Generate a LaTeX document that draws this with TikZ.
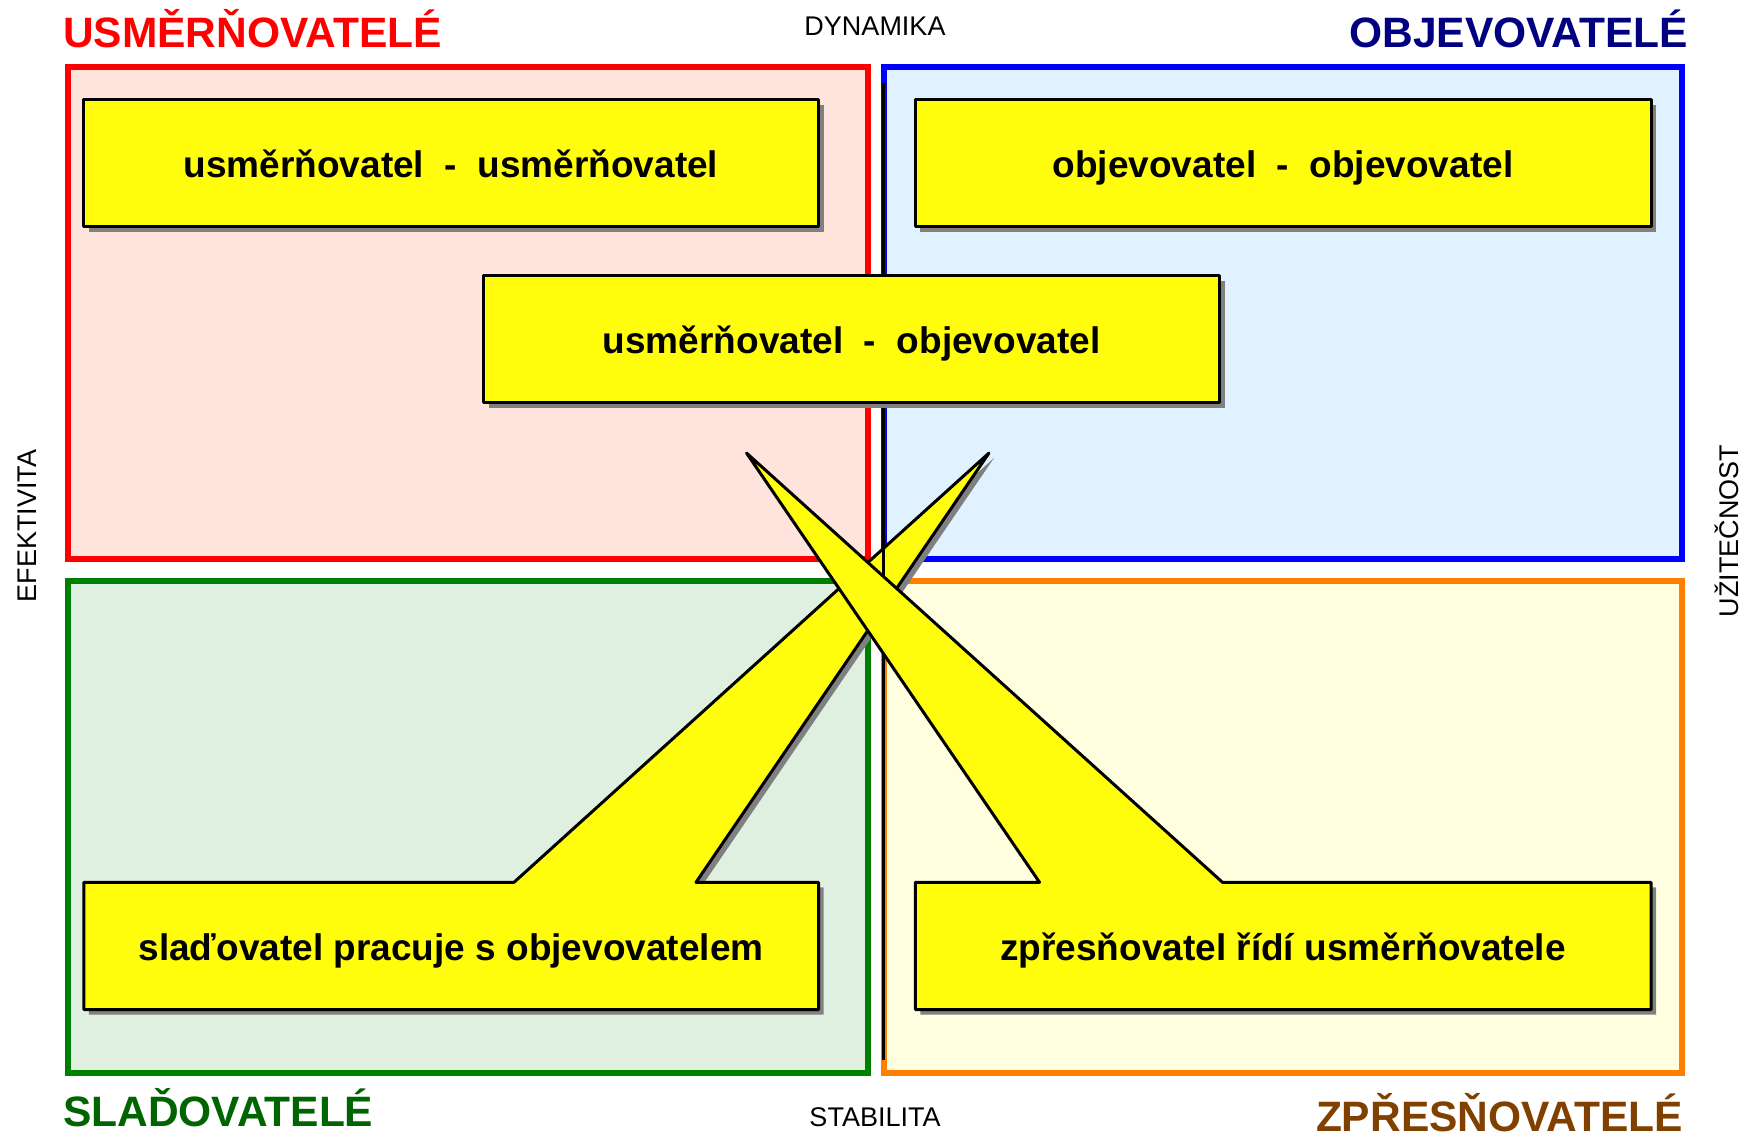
\documentclass[tikz,border=0pt]{standalone}
\usepackage{fontspec}
\setmainfont{Liberation Sans}
% quadrant colours
\definecolor{qred}{RGB}{255,0,0}
\definecolor{qredfill}{RGB}{255,228,222}
\definecolor{qblue}{RGB}{0,0,255}
\definecolor{qbluefill}{RGB}{224,242,255}
\definecolor{qgreen}{RGB}{0,128,0}
\definecolor{qgreenfill}{RGB}{224,240,224}
\definecolor{qorange}{RGB}{255,128,0}
\definecolor{qorangefill}{RGB}{255,255,224}
% title colours
\definecolor{tred}{RGB}{255,0,0}
\definecolor{tnavy}{RGB}{0,0,128}
\definecolor{tgreen}{RGB}{0,100,0}
\definecolor{tbrown}{RGB}{128,64,0}
% cards
\definecolor{cardyellow}{RGB}{255,252,12}
\definecolor{shadowgray}{RGB}{128,128,128}
\begin{document}
\begin{tikzpicture}[x=1pt,y=-1pt,
  quad/.style={line width=6pt},
  card/.style={draw=black,line width=3pt,fill=cardyellow,line join=round},
  cardshadow/.style={fill=shadowgray,shift={(5,5)}},
  cardtext/.style={font=\fontsize{37}{44}\selectfont\bfseries,inner sep=0pt,anchor=base},
  title/.style={font=\fontsize{42.5}{50}\selectfont\bfseries,inner sep=0pt},
  axislabel/.style={font=\fontsize{27}{32}\selectfont,inner sep=0pt}]

% canvas
\fill[white] (0,0) rectangle (1746,1137);
\useasboundingbox (0,0) rectangle (1746,1137);

% four quadrants
\draw[quad,draw=qred,fill=qredfill] (68,67) rectangle (867.7,559);
\draw[quad,draw=qblue,fill=qbluefill] (884,67) rectangle (1682,559);
\draw[quad,draw=qgreen,fill=qgreenfill] (68,581) rectangle (867.7,1073);
\draw[quad,draw=qorange,fill=qorangefill] (884,581) rectangle (1682,1073);

% upper cards
\fill[cardshadow] (83.8,99.8) rectangle (818.5,226.5);
\draw[card] (83.8,99.8) rectangle (818.5,226.5);
\fill[cardshadow] (915.3,99.8) rectangle (1651,226.5);
\draw[card] (915.3,99.8) rectangle (1651,226.5);

% lower left callout
\fill[cardshadow] (83.8,882.3) -- (514,882.3) -- (989,453) -- (696,882.3)
  -- (818.5,882.3) -- (818.5,1009.5) -- (83.8,1009.5) -- cycle;
\draw[card] (83.8,882.3) -- (514,882.3) -- (989,453) -- (696,882.3)
  -- (818.5,882.3) -- (818.5,1009.5) -- (83.8,1009.5) -- cycle;

% vertical axis line
\draw[black,line width=3pt] (883.5,83) -- (883.5,1060);

% middle card
\fill[cardshadow] (483.8,275.5) rectangle (1219.5,402.8);
\draw[card] (483.8,275.5) rectangle (1219.5,402.8);

% lower right callout
\fill[cardshadow] (915.3,882.3) -- (1039.5,882.3) -- (746.5,453) -- (1222.5,882.3)
  -- (1651,882.3) -- (1651,1009.5) -- (915.3,1009.5) -- cycle;
\draw[card] (915.3,882.3) -- (1039.5,882.3) -- (746.5,453) -- (1222.5,882.3)
  -- (1651,882.3) -- (1651,1009.5) -- (915.3,1009.5) -- cycle;

% card texts
\node[cardtext] (uu) at (451,178) {usměrňovatel\ \ -\ \ usměrňovatel};
\node[cardtext] (oo) at (1283,178) {objevovatel\ \ -\ \ objevovatel};
\node[cardtext] (uo) at (851.6,353) {usměrňovatel\ \ -\ \ objevovatel};
\node[cardtext] (so) at (451,960) {slaďovatel pracuje s objevovatelem};
\node[cardtext] (zu) at (1283,960) {zpřesňovatel řídí usměrňovatele};

% quadrant titles
\node[title,text=tred,anchor=base west] (tu) at (63,48) {USMĚRŇOVATELÉ};
\node[title,text=tnavy,anchor=base east] (to) at (1688,48) {OBJEVOVATELÉ};
\node[title,text=tgreen,anchor=base west] (ts) at (63,1126) {SLAĎOVATELÉ};
\node[title,text=tbrown,anchor=base east] (tz) at (1683,1131) {ZPŘESŇOVATELÉ};

% axis labels
\node[axislabel] (dyn) at (875,26) {DYNAMIKA};
\node[axislabel] (sta) at (875,1117) {STABILITA};
\node[axislabel,rotate=90] (efe) at (27,526) {EFEKTIVITA};
\node[axislabel,rotate=90] (uzi) at (1727,531) {UŽITEČNOST};
\end{tikzpicture}
\end{document}
